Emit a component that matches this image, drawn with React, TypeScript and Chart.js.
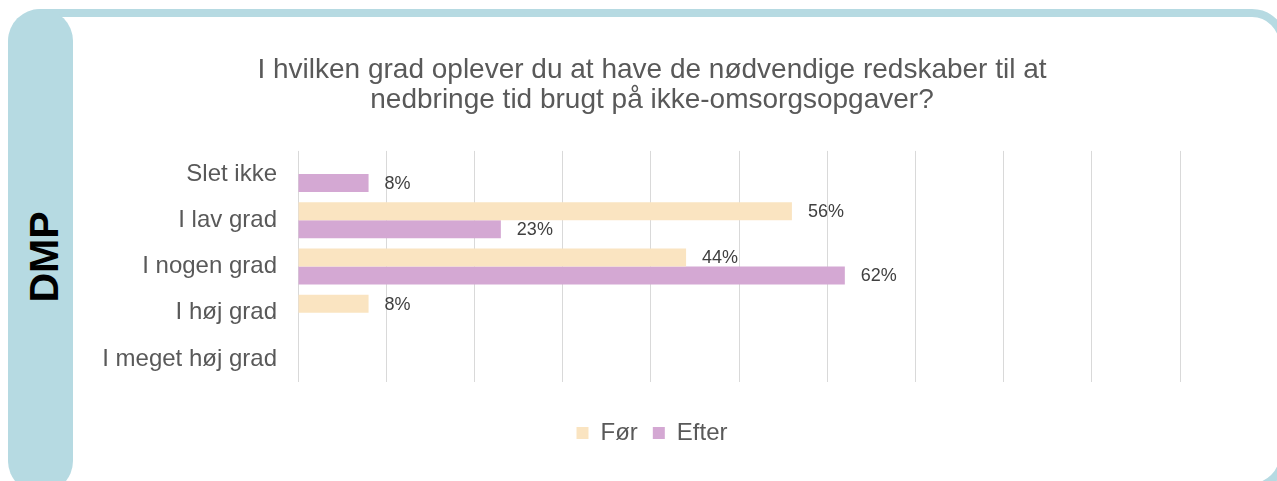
import React, { useEffect, useRef } from "react";
import { Chart, registerables } from "chart.js";

Chart.register(...registerables);

const categories = ["Slet ikke", "I lav grad", "I nogen grad", "I høj grad", "I meget høj grad"];
const forValues = [0, 56, 44, 8, 0];
const efterValues = [8, 23, 62, 0, 0];
const seriesNames = ["Før", "Efter"];
const titleLines = [
  "I hvilken grad oplever du at have de nødvendige redskaber til at",
  "nedbringe tid brugt på ikke-omsorgsopgaver?",
];
const sideLabel = "DMP";

const FONT = '"Liberation Sans", Arial, Helvetica, sans-serif';
const FRAME = "#b6dae2";

const valueLabels = {
  id: "valueLabels",
  afterDatasetsDraw(chart: any) {
    const ctx = chart.ctx;
    ctx.save();
    ctx.font = `18px ${FONT}`;
    ctx.fillStyle = "#404040";
    ctx.textAlign = "left";
    ctx.textBaseline = "middle";
    chart.data.datasets.forEach((ds: any, di: number) => {
      const meta = chart.getDatasetMeta(di);
      meta.data.forEach((bar: any, i: number) => {
        const v = ds.data[i];
        if (!v) return;
        ctx.fillText(v + "%", bar.x + 16, bar.y + 1);
      });
    });
    ctx.restore();
  },
};

export default function App() {
  const canvasRef = useRef<HTMLCanvasElement | null>(null);

  useEffect(() => {
    if (!canvasRef.current) return;
    const chart = new Chart(canvasRef.current, {
      type: "bar",
      data: {
        labels: categories,
        datasets: [
          {
            label: seriesNames[0],
            data: forValues,
            backgroundColor: "#fae4c1",
            categoryPercentage: 0.78,
            barPercentage: 1,
          },
          {
            label: seriesNames[1],
            data: efterValues,
            backgroundColor: "#d4a8d3",
            categoryPercentage: 0.78,
            barPercentage: 1,
          },
        ],
      },
      options: {
        indexAxis: "y",
        animation: false,
        responsive: true,
        maintainAspectRatio: false,
        layout: { padding: { left: 24, right: 2, top: 0, bottom: 10 } },
        scales: {
          x: {
            min: 0,
            max: 100,
            ticks: { display: false, stepSize: 10 },
            grid: { color: "#d9d9d9", lineWidth: 1, drawTicks: false },
            border: { display: false },
            afterFit: (s: any) => {
              s.height = 24;
            },
          },
          y: {
            ticks: {
              color: "#595959",
              font: { family: FONT, size: 24 },
              padding: 21,
            },
            grid: { display: false, drawTicks: false },
            border: { display: false },
            afterFit: (s: any) => {
              s.width = 198;
            },
          },
          y2: {
            type: "category",
            position: "right",
            display: true,
            ticks: { display: false },
            grid: { display: false, drawTicks: false },
            border: { display: false },
            afterFit: (s: any) => {
              s.width = 24;
            },
          },
        },
        plugins: {
          title: {
            display: true,
            text: titleLines,
            color: "#595959",
            font: { family: FONT, size: 28, weight: "normal", lineHeight: 1.07 },
            padding: { top: 38, bottom: 36 },
          },
          legend: {
            position: "bottom",
            labels: {
              boxWidth: 12,
              boxHeight: 12,
              padding: 15,
              color: "#595959",
              font: { family: FONT, size: 24 },
            },
          },
          tooltip: { enabled: false },
        },
      },
      plugins: [valueLabels],
    });
    return () => chart.destroy();
  }, []);

  return (
    <div style={{ position: "fixed", left: 0, top: 0, width: 1277, height: 481, overflow: "hidden", background: "#fff" }}>
      <div
        style={{
          position: "absolute",
          left: 8,
          top: 9,
          width: 1279,
          height: 482,
          boxSizing: "border-box",
          border: `8px solid ${FRAME}`,
          borderRadius: 35,
        }}
      />
      <div
        style={{
          position: "absolute",
          left: 8,
          top: 9,
          width: 65,
          height: 484,
          background: FRAME,
          borderRadius: 32,
        }}
      />
      <div
        style={{
          position: "absolute",
          left: 44,
          top: 257,
          transform: "translate(-50%, -50%) rotate(-90deg)",
          fontFamily: FONT,
          fontWeight: "bold",
          fontSize: 41,
          lineHeight: 1,
          color: "#000",
          whiteSpace: "nowrap",
        }}
      >
        {sideLabel}
      </div>
      <div style={{ position: "absolute", left: 76, top: 17, width: 1130, height: 448 }}>
        <canvas ref={canvasRef} />
      </div>
    </div>
  );
}
